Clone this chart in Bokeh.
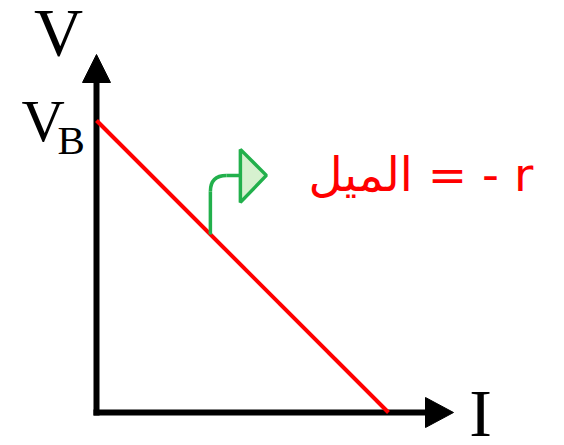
from bokeh.plotting import figure
from bokeh.models import Range1d
from bokeh.core.properties import value
from bokeh.embed import file_html
from bokeh.resources import INLINE

# ---- data (normalised units) ----
current = [0.0, 1.0]      # I : 0 .. short-circuit current
voltage = [1.0, 0.0]      # V : V_B .. 0
axis_labels = ["V", "I"]
vb_label = ["V", "B"]
slope_text = "الميل = - r"

S = 292.0  # pixels per unit (layout only)
W, H = 560, 441
OX, OY = 96, 412  # origin position in canvas pixels

p = figure(width=W, height=H, output_backend="svg", toolbar_location=None,
           x_range=Range1d(-OX / S, (W - OX) / S), y_range=Range1d((OY - H) / S, OY / S),
           min_border=0)
p.axis.visible = False
p.grid.visible = False
p.outline_line_color = None
p.background_fill_color = "white"

px = 1.0 / S
# axes
ytip, ybase = 358 * px, 330 * px
xtip, xbase = 357 * px, 329 * px
p.line([0, 0], [-3 * px, ybase + 2 * px], line_color="black", line_width=6)
p.line([-3 * px, xbase + 2 * px], [0, 0], line_color="black", line_width=6)
p.patch([-14 * px, 14 * px, 0], [ybase, ybase, ytip], color="black")
p.patch([xbase, xbase, xtip], [-15 * px, 15 * px, 0], color="black")


def label(x, y, txt, size, font="Liberation Serif", color="black", align="left"):
    p.text(x=[x], y=[y], text=[txt], text_font=value(font),
           text_font_size=f"{size}px", text_align=align, text_baseline="alphabetic",
           text_color=color, y_offset=-round(0.38 * size))


# labels
label(-38 * px, 355 * px, axis_labels[0], 68, align="center")
label(xtip + 27 * px, -26 * px, axis_labels[1], 68, align="center")
label(-75 * px, voltage[0] - 23 * px, vb_label[0], 60)
label(-39 * px, voltage[0] - 35 * px, vb_label[1], 41)

# characteristic line
p.line(current, voltage, line_color="#ff0000", line_width=4)

# green bent arrow from the line
g = "#22b04c"
x0 = 0.39
y0 = voltage[0] + (voltage[1] - voltage[0]) * (x0 - current[0]) / (current[1] - current[0])
yh = y0 + 59 * px
p.line([x0, x0], [y0, yh - 16 * px], line_color=g, line_width=3.5)
p.quadratic(x0=[x0], y0=[yh - 16 * px], x1=[x0 + 16 * px], y1=[yh],
            cx=[x0], cy=[yh], line_color=g, line_width=3.5)
p.line([x0 + 16 * px, x0 + 30 * px], [yh, yh], line_color=g, line_width=3.5)
p.patch([x0 + 30 * px, x0 + 30 * px, x0 + 56 * px],
        [yh + 26 * px, yh - 27 * px, yh],
        fill_color="#d6f1cf", line_color=g, line_width=3.5)

# slope text
label(212 * px, 220 * px, slope_text, 47, font="DejaVu Sans", color="#ff0000")

open("out.html", "w").write(file_html(p, INLINE))
